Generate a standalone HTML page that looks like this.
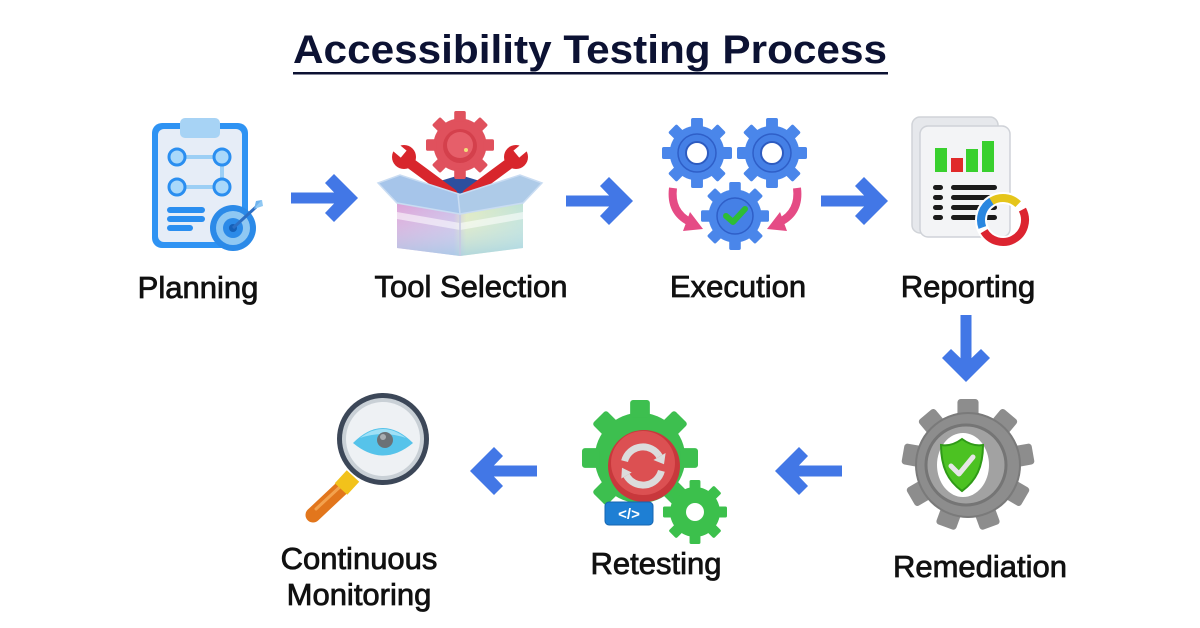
<!DOCTYPE html>
<html><head><meta charset="utf-8">
<style>
html,body{margin:0;padding:0;background:#fff;}
svg{display:block;}
text{font-family:"Liberation Sans",Arial,sans-serif;}
</style></head><body>
<svg width="1200" height="628" viewBox="0 0 1200 628" xmlns="http://www.w3.org/2000/svg">
<defs>
<g id="g8">
 <circle r="78"/>
 <rect x="-17" y="-100" width="34" height="30" rx="5"/>
 <rect x="-17" y="-100" width="34" height="30" rx="5" transform="rotate(45)"/>
 <rect x="-17" y="-100" width="34" height="30" rx="5" transform="rotate(90)"/>
 <rect x="-17" y="-100" width="34" height="30" rx="5" transform="rotate(135)"/>
 <rect x="-17" y="-100" width="34" height="30" rx="5" transform="rotate(180)"/>
 <rect x="-17" y="-100" width="34" height="30" rx="5" transform="rotate(225)"/>
 <rect x="-17" y="-100" width="34" height="30" rx="5" transform="rotate(270)"/>
 <rect x="-17" y="-100" width="34" height="30" rx="5" transform="rotate(315)"/>
</g>
<g id="g9">
 <circle r="80"/>
 <rect x="-16" y="-100" width="32" height="28" rx="5"/>
 <rect x="-16" y="-100" width="32" height="28" rx="5" transform="rotate(40)"/>
 <rect x="-16" y="-100" width="32" height="28" rx="5" transform="rotate(80)"/>
 <rect x="-16" y="-100" width="32" height="28" rx="5" transform="rotate(120)"/>
 <rect x="-16" y="-100" width="32" height="28" rx="5" transform="rotate(160)"/>
 <rect x="-16" y="-100" width="32" height="28" rx="5" transform="rotate(200)"/>
 <rect x="-16" y="-100" width="32" height="28" rx="5" transform="rotate(240)"/>
 <rect x="-16" y="-100" width="32" height="28" rx="5" transform="rotate(280)"/>
 <rect x="-16" y="-100" width="32" height="28" rx="5" transform="rotate(320)"/>
</g>
<polygon id="arr" points="0,0 -24,-24 -33,-15 -23.9,-5.5 -67,-5.5 -67,5.5 -23.9,5.5 -33,15 -24,24"/>
<linearGradient id="boxg" x1="0" y1="0" x2="1" y2="0">
 <stop offset="0" stop-color="#dba2d8"/>
 <stop offset="0.45" stop-color="#cdb9e6"/>
 <stop offset="0.55" stop-color="#dfe9bd"/>
 <stop offset="1" stop-color="#bfe2d6"/>
</linearGradient>
<linearGradient id="boxv" x1="0" y1="0" x2="0" y2="1">
 <stop offset="0" stop-color="#ffffff" stop-opacity="0"/>
 <stop offset="1" stop-color="#9fd0e8" stop-opacity="0.7"/>
</linearGradient>
</defs>

<!-- Title -->
<text x="293" y="63" font-size="40" font-weight="bold" fill="#0c1233" textLength="594" lengthAdjust="spacingAndGlyphs">Accessibility Testing Process</text>
<rect x="293" y="72" width="595" height="2.5" fill="#0c1233"/>

<!-- Arrows -->
<g fill="#4277e6">
 <use href="#arr" transform="translate(358,198)"/>
 <use href="#arr" transform="translate(633,201)"/>
 <use href="#arr" transform="translate(888,201)"/>
 <use href="#arr" transform="translate(966,382) rotate(90)"/>
 <use href="#arr" transform="translate(775,471) rotate(180)"/>
 <use href="#arr" transform="translate(470,471) rotate(180)"/>
</g>

<!-- Planning icon -->
<g>
 <rect x="152" y="123" width="96" height="125" rx="10" fill="#2f93f3"/>
 <rect x="158" y="129" width="84" height="113" rx="6" fill="#e6edf7"/>
 <rect x="180" y="118" width="40" height="20" rx="5" fill="#a7d3f5"/>
 <g stroke="#9ccff5" stroke-width="4" fill="none">
  <line x1="177" y1="157" x2="222" y2="157"/>
  <line x1="222" y1="157" x2="222" y2="187"/>
  <line x1="177" y1="187" x2="222" y2="187"/>
 </g>
 <g fill="#a9d8fa" stroke="#2a8ef0" stroke-width="3">
  <circle cx="177" cy="157" r="8"/>
  <circle cx="222" cy="157" r="8"/>
  <circle cx="177" cy="187" r="8"/>
  <circle cx="222" cy="187" r="8"/>
 </g>
 <rect x="167" y="207" width="38" height="6" rx="3" fill="#2a8ef0"/>
 <rect x="167" y="216" width="38" height="6" rx="3" fill="#2a8ef0"/>
 <rect x="167" y="225" width="26" height="6" rx="3" fill="#2a8ef0"/>
 <circle cx="233" cy="228" r="23" fill="#2b8ae8"/>
 <circle cx="233" cy="228" r="17" fill="#8fc8f3"/>
 <circle cx="233" cy="228" r="10" fill="#2b8ae8"/>
 <circle cx="233" cy="228" r="4" fill="#1560b8"/>
 <line x1="233" y1="228" x2="256" y2="207" stroke="#2d6fc4" stroke-width="3"/>
 <polygon points="254,209 262,200 263,206" fill="#8fc8f3"/>
 <polygon points="254,209 256,201 262,200" fill="#6fb3ee"/>
</g>

<!-- Tool Selection icon -->
<g>
 <polygon points="410,190 460,175 510,190 460,205" fill="#2d4f9e"/>
 <use href="#g8" transform="translate(460,145) scale(0.34)" fill="#e0515d"/>
 <circle cx="460" cy="146" r="17" fill="#d4404c"/>
 <circle cx="460" cy="145" r="13" fill="#e65f6a"/>
 <circle cx="466" cy="150" r="2" fill="#f1e07a"/>
 <g stroke="#d8262c" stroke-width="11" stroke-linecap="round">
  <line x1="406" y1="160" x2="452" y2="194"/>
  <line x1="514" y1="160" x2="468" y2="194"/>
 </g>
 <circle cx="404" cy="157" r="12" fill="#d8262c"/>
 <circle cx="516" cy="157" r="12" fill="#d8262c"/>
 <rect x="394" y="144" width="9" height="13" fill="#fff" transform="rotate(-50 398 150)"/>
 <rect x="517" y="144" width="9" height="13" fill="#fff" transform="rotate(50 522 150)"/>
 <polygon points="397,203 460,214 523,203 523,248 460,256 397,248" fill="url(#boxg)"/>
 <polygon points="397,203 460,214 523,203 523,248 460,256 397,248" fill="url(#boxv)"/>
 <polygon points="397,212 460,223 523,212 523,219 460,230 397,219" fill="#ffffff" opacity="0.55"/>
 <line x1="460" y1="214" x2="460" y2="256" stroke="#c6c8e4" stroke-width="1.5"/>
 <polygon points="378,183 400,175 462,195 460,214 397,203" fill="#a6c5ea" stroke="#c9dcf2" stroke-width="1.5"/>
 <polygon points="542,183 520,175 458,195 460,214 523,203" fill="#aecbe8" stroke="#c9dcf2" stroke-width="1.5"/>
</g>

<!-- Execution icon -->
<g>
 <use href="#g8" transform="translate(697,153) scale(0.35)" fill="#4a86ea"/>
 <circle cx="697" cy="153" r="19" fill="#4580e6" stroke="#2f5fc8" stroke-width="1.5"/>
 <circle cx="697" cy="153" r="11" fill="#fff" stroke="#2d5bc0" stroke-width="2"/>
 <use href="#g8" transform="translate(772,153) scale(0.35)" fill="#4a86ea"/>
 <circle cx="772" cy="153" r="19" fill="#4580e6" stroke="#2f5fc8" stroke-width="1.5"/>
 <circle cx="772" cy="153" r="11" fill="#fff" stroke="#2d5bc0" stroke-width="2"/>
 <use href="#g8" transform="translate(735,216) scale(0.34)" fill="#4a86ea"/>
 <circle cx="735" cy="216" r="18" fill="#4580e6" stroke="#2f5fc8" stroke-width="1.5"/>
 <path d="M726,216 L733,222 L745,209" stroke="#2dbd36" stroke-width="6" fill="none" stroke-linecap="round" stroke-linejoin="round"/>
 <path d="M673,188 Q670,212 690,222" stroke="#e54b85" stroke-width="8" fill="none"/>
 <polygon points="703,229 690,212 683,231" fill="#e54b85"/>
 <path d="M797,188 Q800,212 780,222" stroke="#e54b85" stroke-width="8" fill="none"/>
 <polygon points="767,229 780,212 787,231" fill="#e54b85"/>
</g>

<!-- Reporting icon -->
<g>
 <rect x="912" y="117" width="86" height="116" rx="8" fill="#e6e8ec" stroke="#d0d3d8" stroke-width="1.5"/>
 <rect x="920" y="126" width="90" height="111" rx="8" fill="#f3f4f6" stroke="#cfd2d8" stroke-width="1.5"/>
 <rect x="935" y="148" width="12" height="24" fill="#39d02e"/>
 <rect x="951" y="158" width="12" height="14" fill="#e02a2a"/>
 <rect x="966" y="149" width="12" height="23" fill="#39d02e"/>
 <rect x="982" y="141" width="12" height="31" fill="#39d02e"/>
 <g fill="#1b1b1b">
  <rect x="933" y="185" width="10" height="5" rx="2.5"/>
  <rect x="951" y="185" width="46" height="5" rx="2.5"/>
  <rect x="933" y="195" width="10" height="5" rx="2.5"/>
  <rect x="951" y="195" width="46" height="5" rx="2.5"/>
  <rect x="933" y="205" width="10" height="5" rx="2.5"/>
  <rect x="951" y="205" width="46" height="5" rx="2.5"/>
  <rect x="933" y="215" width="10" height="5" rx="2.5"/>
  <rect x="951" y="215" width="46" height="5" rx="2.5"/>
 </g>
 <circle cx="1003" cy="220" r="22" fill="none" stroke="#fff" stroke-width="12"/>
 <g fill="none" stroke-width="8">
  <circle cx="1003" cy="220" r="22" stroke="#e5c51a" stroke-dasharray="29 109" transform="rotate(-122 1003 220)"/>
  <circle cx="1003" cy="220" r="22" stroke="#dc2430" stroke-dasharray="68 70" transform="rotate(-28 1003 220)"/>
  <circle cx="1003" cy="220" r="22" stroke="#2a87e0" stroke-dasharray="30 108" transform="rotate(160 1003 220)"/>
 </g>
</g>

<!-- Remediation icon -->
<g>
 <use href="#g9" transform="translate(968,465) scale(0.66)" fill="#8d8d8d"/>
 <circle cx="968" cy="465" r="52" fill="none" stroke="#7a7a7a" stroke-width="2"/>
 <circle cx="966" cy="465" r="40" fill="#a2a2a2" stroke="#757575" stroke-width="3"/>
 <ellipse cx="963" cy="465" rx="26" ry="32" fill="#fff"/>
 <path d="M962,439 C970,445 977,446 983,445 C983,467 976,481 962,491 C948,481 941,467 941,445 C947,446 954,445 962,439 Z" fill="#4cc222" stroke="#2f9a17" stroke-width="2"/>
 <path d="M951,466 L959,474 L973,457" stroke="#e6e6e6" stroke-width="5" fill="none" stroke-linecap="round" stroke-linejoin="round"/>
</g>

<!-- Retesting icon -->
<g>
 <use href="#g8" transform="translate(640,458) scale(0.58)" fill="#3dbf4f"/>
 <use href="#g8" transform="translate(695,512) scale(0.32)" fill="#3cc04c"/>
 <circle cx="695" cy="512" r="9" fill="#fff"/>
 <circle cx="644" cy="466" r="36" fill="#c8383c"/>
 <circle cx="643" cy="463" r="32" fill="#dc5052"/>
 <g stroke="#dcdcdc" stroke-width="7" fill="none">
  <path d="M624.6,461.1 A19,19 0 0 1 659.5,456.5"/>
  <path d="M661.4,470.9 A19,19 0 0 1 626.5,475.5"/>
 </g>
 <polygon points="665.6,453 653.4,460 664,464.3" fill="#dcdcdc"/>
 <polygon points="621.3,478.5 631.7,472.5 622,467.7" fill="#dcdcdc"/>
 <rect x="605" y="502" width="48" height="23" rx="4" fill="#1e7fd4" stroke="#1565b0" stroke-width="1"/>
 <text x="629" y="519" font-size="15" font-weight="bold" fill="#fff" text-anchor="middle">&lt;/&gt;</text>
</g>

<!-- Continuous Monitoring icon -->
<g>
 <line x1="346" y1="484" x2="313" y2="515" stroke="#e2761c" stroke-width="15" stroke-linecap="round"/>
 <line x1="342" y1="485" x2="316" y2="509" stroke="#f3a24e" stroke-width="3" stroke-linecap="round"/>
 <line x1="353" y1="476" x2="341" y2="489" stroke="#f2c21b" stroke-width="17"/>
 <circle cx="383" cy="439" r="46" fill="#3c4758"/>
 <circle cx="383" cy="439" r="41" fill="#c9d0d6"/>
 <circle cx="383" cy="439" r="37" fill="#eef1f4"/>
 <path d="M353,443 Q383,413 413,443 Q383,468 353,443 Z" fill="#56c3ea"/>
 <path d="M360,438 Q383,420 406,438 Q383,430 360,438 Z" fill="#9fe0f6"/>
 <circle cx="385" cy="440" r="8" fill="#6b7176"/>
 <circle cx="383" cy="437" r="3" fill="#a9aeb2"/>
</g>

<!-- Labels -->
<g font-size="31" fill="#111" stroke="#111" stroke-width="0.8" text-anchor="middle">
 <text x="198" y="298">Planning</text>
 <text x="471" y="297">Tool Selection</text>
 <text x="738" y="297">Execution</text>
 <text x="968" y="297">Reporting</text>
 <text x="980" y="577">Remediation</text>
 <text x="656" y="574">Retesting</text>
 <text x="359" y="569">Continuous</text>
 <text x="359" y="605">Monitoring</text>
</g>
</svg>
</body></html>
